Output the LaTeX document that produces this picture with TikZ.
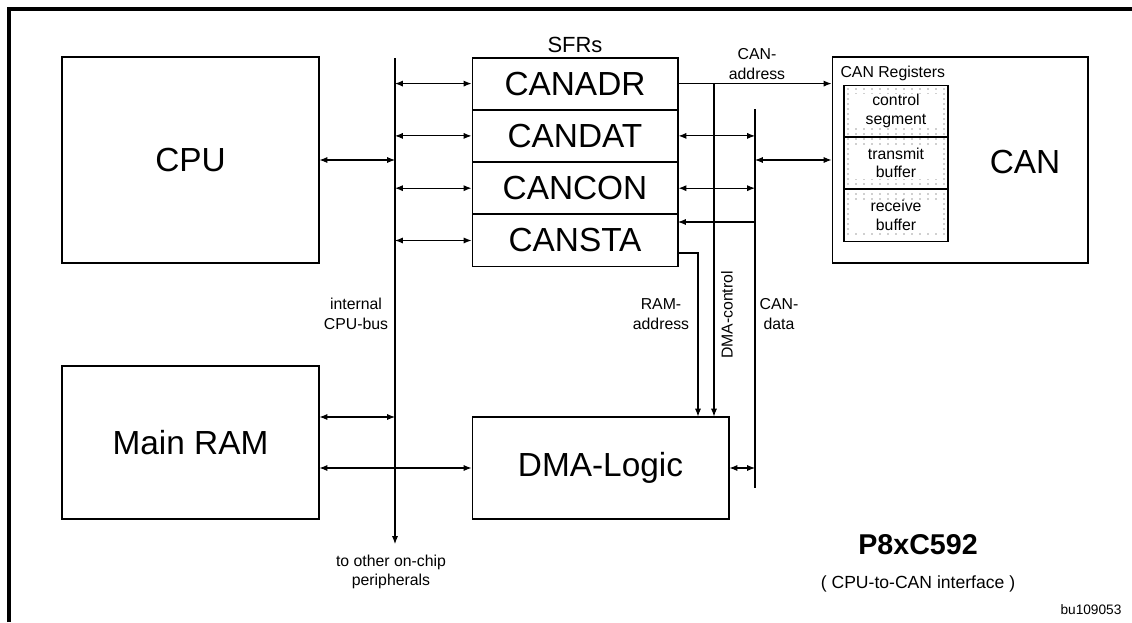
\documentclass[tikz,border=0pt]{standalone}
\usepackage{fontspec}
\setmainfont{Liberation Sans}
\usetikzlibrary{positioning, arrows.meta}

\begin{document}
\begin{tikzpicture}[x=0.02cm, y=-0.02cm, line width=0.6pt,
    box/.style={draw, inner sep=0pt, font=\fontsize{19}{22}\selectfont},
    reg/.style={draw, minimum width=4.12cm, minimum height=1.025cm, inner sep=0pt, font=\fontsize{19}{22}\selectfont},
    seg/.style={draw, minimum width=2.08cm, minimum height=1.027cm, inner sep=0pt},
    segtext/.style={fill=white, minimum width=1.64cm, minimum height=0.62cm, inner sep=0pt, align=center, font=\fontsize{9}{10.5}\selectfont},
    lbl/.style={align=center, inner sep=0pt, font=\fontsize{9}{11}\selectfont},
    tip/.style={-{Latex[length=4.5pt,width=3.5pt]}},
    both/.style={{Latex[length=4.5pt,width=3.5pt]}-{Latex[length=4.5pt,width=3.5pt]}}]
  \useasboundingbox (0,0) rectangle (1132,622);

  % frame
  \draw[line width=2.1pt] (9,622) -- (9,9) -- (1132,9);

  % blocks
  \node[box, minimum width=5.14cm, minimum height=4.12cm] (cpu) at (190.5,160) {CPU};
  \node[box, minimum width=5.14cm, minimum height=3.06cm] (ram) at (190.5,442.5) {Main RAM};
  \node[box, minimum width=5.14cm, minimum height=2.04cm] (dma) at (600.5,468) {DMA-Logic};
  \node[box, minimum width=5.12cm, minimum height=4.12cm] (can) at (960,160) {};
  \node[box, draw=none] (cantext) at (1025,162) {CAN};

  % SFRs
  \node[reg] (adr) at (575,83.6) {CANADR};
  \node[reg, below=0pt of adr] (dat) {CANDAT};
  \node[reg, below=0pt of dat] (con) {CANCON};
  \node[reg, below=0pt of con] (sta) {CANSTA};
  \node[lbl, font=\fontsize{12.5}{14}\selectfont] (sfrs) at (575,45) {SFRs};

  % CAN registers
  \foreach \x in {848,856,...,944}
    \foreach \y in {89,94,...,235}
      \fill[black!80] (\x,\y) circle (0.4pt);
  \node[seg] (seg1) at (896,110.7) {};
  \node[seg, below=0pt of seg1] (seg2) {};
  \node[seg, below=0pt of seg2] (seg3) {};
  \node[segtext] (seg1t) at (seg1) {control\\segment};
  \node[segtext] (seg2t) at (seg2) {transmit\\buffer};
  \node[segtext] (seg3t) at (seg3) {receive\\buffer};
  \node[lbl, anchor=west] (canregs) at (840,73) {CAN Registers};

  % buses
  \coordinate (bustop) at (395,58);
  \coordinate (busend) at (395,544);
  \coordinate (ramtap) at (395,417);
  \coordinate (datatop) at (755,109);
  \coordinate (dataend) at (755,488);
  \coordinate (stain) at (678,222);
  \coordinate (ctl) at (714,83);
  \coordinate (stabend) at (698,253);

  \draw[tip] (bustop) -- (busend);
  \draw (datatop) -- (dataend);

  \draw[both] (cpu.east) -- (cpu.east -| bustop);
  \foreach \r in {adr,dat,con,sta}
    \draw[both] (\r.west -| bustop) -- (\r.west);
  \draw[both] (ram.east |- ramtap) -- (ramtap);
  \draw[both] (ram.east |- dma) -- (dma.west);

  \draw[tip] (adr.east) -- (adr.east -| can.west);
  \draw[both] (dat.east) -- (dat.east -| datatop);
  \draw[both] (con.east) -- (con.east -| datatop);
  \draw[tip] (datatop |- stain) -- (stain);
  \draw[both] (datatop |- can) -- (can.west);
  \draw[both] (dma.east) -- (dma.east -| datatop);
  \draw[tip] (ctl) -- (ctl |- dma.north);
  \draw[tip] (sta.east |- stabend) -- (stabend) -- (stabend |- dma.north);

  % labels
  \node[lbl] (canaddr) at (757,64) {CAN-\\address};
  \node[lbl] (cpubus) at (356,314) {internal\\CPU-bus};
  \node[lbl] (ramaddr) at (661,314) {RAM-\\address};
  \node[lbl, rotate=90] (dmactl) at (727,315) {DMA-control};
  \node[lbl] (candata) at (779,314) {CAN-\\data};
  \node[lbl] (other) at (391,572) {to other on-chip\\peripherals};

  \node[lbl, font=\bfseries\fontsize{16.3}{19}\selectfont] (chip) at (918,545) {P8xC592};
  \node[lbl, font=\fontsize{10}{12}\selectfont] (iface) at (918,584) {( CPU-to-CAN interface )};
  \node[lbl, anchor=east, font=\fontsize{7.8}{9}\selectfont] (code) at (1122,610) {bu109053};
\end{tikzpicture}
\end{document}
